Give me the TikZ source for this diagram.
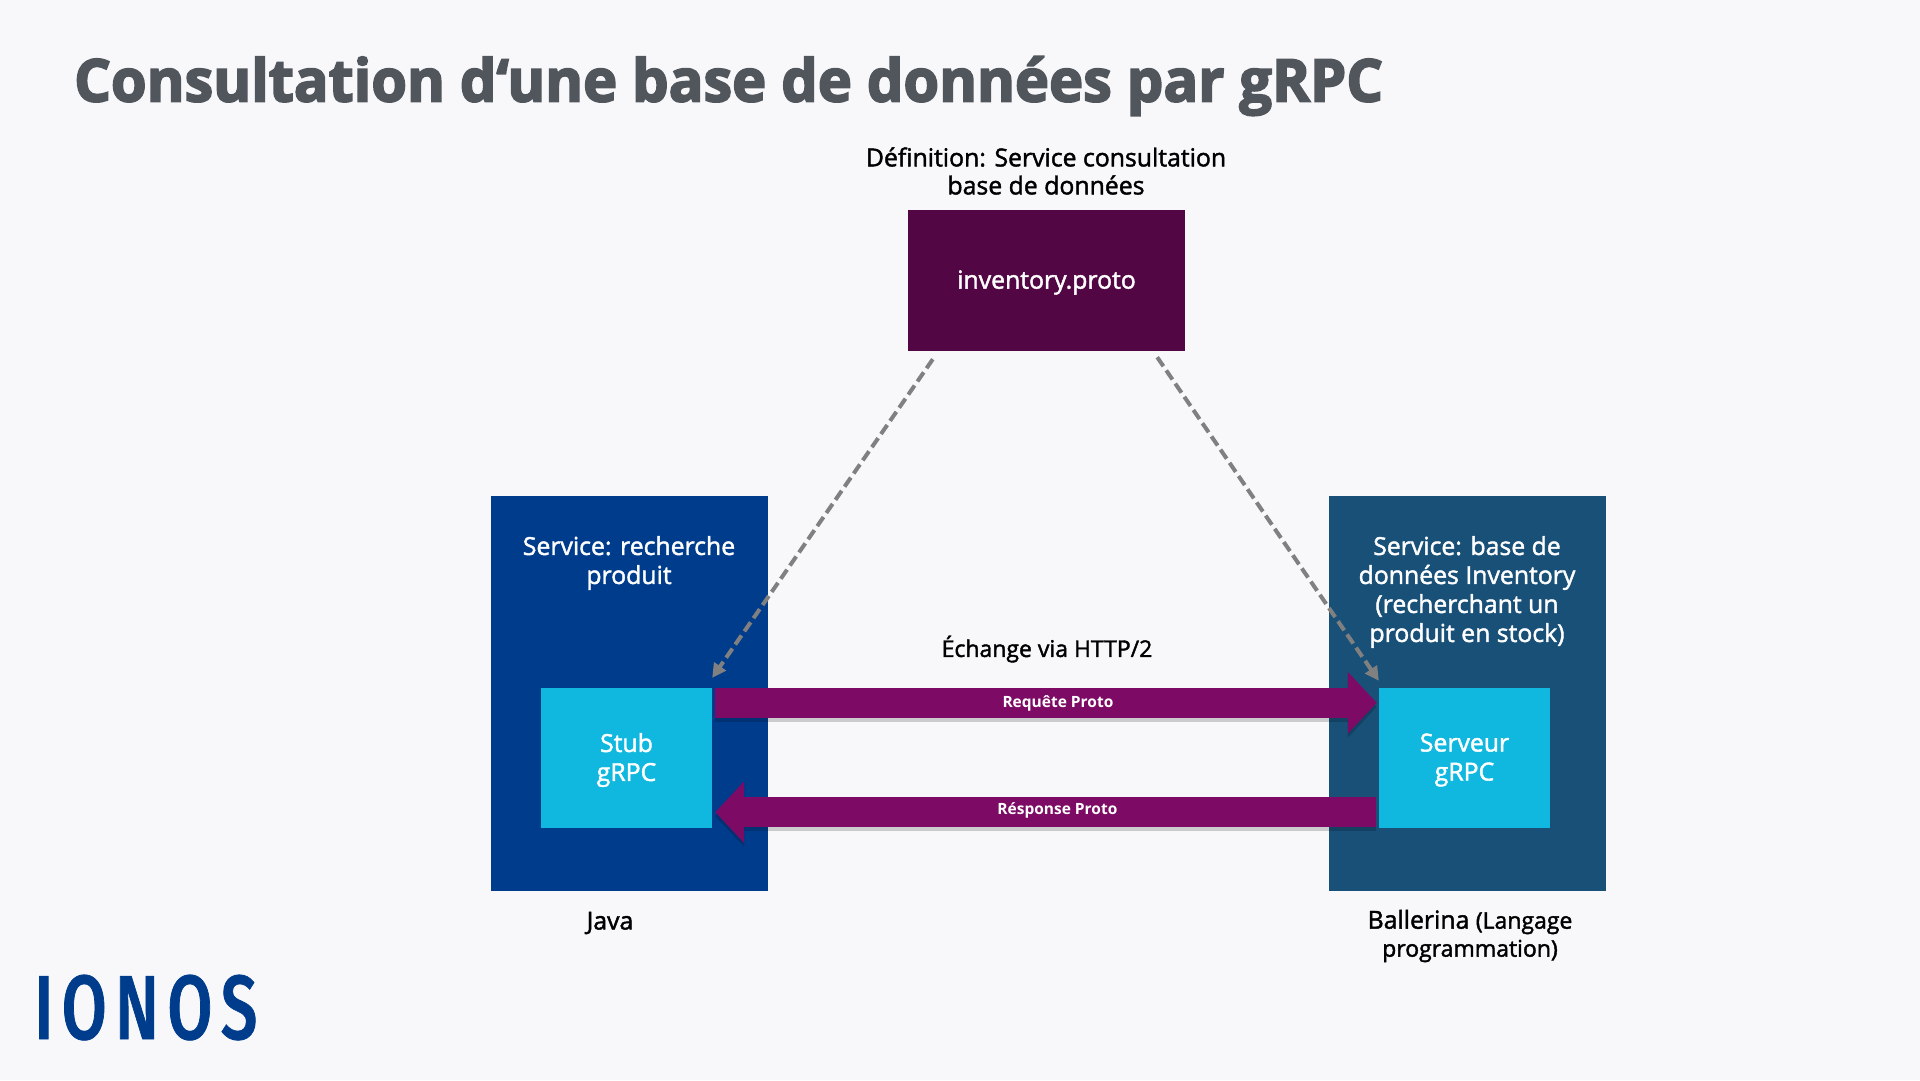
\documentclass[tikz,border=0pt]{standalone}
\usepackage{fontspec}
\usepackage{xcolor}
\usepackage{tikz}
\usetikzlibrary{arrows.meta}
\setmainfont{Open Sans}
\newfontfamily\semifont[FakeBold=1.7]{Open Sans}
\newfontfamily\titlefont[FakeBold=3.0,FakeStretch=0.978]{Open Sans Bold}
\newfontfamily\logofont[FakeBold=0.8,FakeStretch=0.72,LetterSpace=9]{Fira Sans Medium}
\newcommand{\lowered}[1]{\raisebox{-2pt}[\height][\depth]{#1}}
\definecolor{pagebg}{RGB}{248, 248, 251}
\definecolor{titlegray}{RGB}{80, 86, 92}
\definecolor{protopurple}{RGB}{82, 6, 68}
\definecolor{javablue}{RGB}{0, 60, 140}
\definecolor{ballerinablue}{RGB}{24, 80, 120}
\definecolor{stubcyan}{RGB}{16, 184, 224}
\definecolor{flowpurple}{RGB}{125, 10, 100}
\definecolor{dashgray}{RGB}{128, 128, 128}
\definecolor{logoblue}{RGB}{0, 60, 140}

\begin{document}
\begin{tikzpicture}[
        x=1pt, y=-1pt,
        svcbox/.style={rectangle, inner sep=0pt, minimum width=277pt, minimum height=395pt},
        stubbox/.style={rectangle, inner sep=0pt, fill=stubcyan, minimum width=171pt, minimum height=140pt, align=center, text=white, font=\fontsize{24.8}{29}\selectfont\semifont},
        boxtext/.style={inner sep=0pt, align=center, text=white, font=\fontsize{24.8}{29}\selectfont\semifont},
        caption/.style={inner sep=0pt, align=center, text=black, font=\fontsize{24.8}{28}\selectfont\semifont},
        flow/.style={-{Triangle[length=29pt,width=60pt]}, line width=30pt, color=flowpurple},
        flowshade/.style={-{Triangle[length=29pt,width=60pt]}, line width=30pt, color=black, opacity=0.18, transform canvas={yshift=-4pt}},
        flowlabel/.style={inner sep=0pt, text=white, font=\fontsize{15.5}{18}\selectfont\bfseries},
        contract/.style={-{Triangle[length=14pt,width=14pt]}, line width=4pt, color=dashgray, dash pattern=on 11pt off 5pt}
    ]
        \fill[pagebg] (0,0) rectangle (1920,1080);
        \useasboundingbox (0,0) rectangle (1920,1080);

        % Title and logo
        \node[inner sep=0pt, anchor=west, text=titlegray, font=\fontsize{59}{70}\selectfont\titlefont] (title) at (74,86) {Consultation d‘une base de données par gRPC};
        \node[inner sep=0pt, anchor=base west, text=logoblue, font=\fontsize{91}{91}\selectfont\logofont] (logo) at (34,1039) {IONOS};

        % Top Row
        \node[caption] (deftext) at (1046,171) {Définition: Service consultation\\base de données};
        \node[rectangle, inner sep=0pt, fill=protopurple, minimum width=277pt, minimum height=141pt, text=white, font=\fontsize{24.8}{29}\selectfont\semifont] (proto) at (1046.5,280.5) {\lowered{inventory.proto}};

        % Bottom Row
        \node[svcbox, fill=javablue] (java) at (629.5,693.5) {};
        \node[svcbox, fill=ballerinablue] (ballerina) at (1467,693.5) {};
        \node[boxtext] (javatext) at (629,563) {Service: recherche\\produit};
        \node[boxtext] (ballerinatext) at (1467,592) {Service: base de\\données Inventory\\(recherchant un\\produit en stock)};
        \node[stubbox] (stub) at (626.5,758) {\lowered{Stub}\\\lowered{gRPC}};
        \node[stubbox] (server) at (1464.5,758) {\lowered{Serveur}\\\lowered{gRPC}};
        \node[caption, font=\fontsize{23}{28}\selectfont\semifont] (exchange) at (1047,649) {Échange via HTTP/2};
        \node[caption] (javacap) at (610,923) {Java};
        \node[caption] (ballerinacap) at (1470,936) {Ballerina {\fontsize{23}{28}\selectfont (Langage}\\{\fontsize{23}{28}\selectfont programmation)}};

        % Connections
        \draw[contract] ([xshift=25pt,yshift=-8pt]proto.south west) -- ([yshift=10pt]stub.north east);
        \draw[contract] ([xshift=-28pt,yshift=-6pt]proto.south east) -- ([yshift=7pt]server.north west);
        \draw[flowshade] ([xshift=3pt,yshift=-15pt]stub.north east) -- ([xshift=-2pt,yshift=-15pt]server.north west);
        \draw[flowshade] ([xshift=-3pt,yshift=16pt]server.south west) -- ([xshift=3pt,yshift=16pt]stub.south east);
        \draw[flow] ([xshift=3pt,yshift=-15pt]stub.north east) -- node[flowlabel, pos=0.518, yshift=-1pt] {Requête Proto} ([xshift=-2pt,yshift=-15pt]server.north west);
        \draw[flow] ([xshift=-3pt,yshift=16pt]server.south west) -- node[flowlabel, pos=0.482, yshift=2pt] {Résponse Proto} ([xshift=3pt,yshift=16pt]stub.south east);
    \end{tikzpicture}
\end{document}
